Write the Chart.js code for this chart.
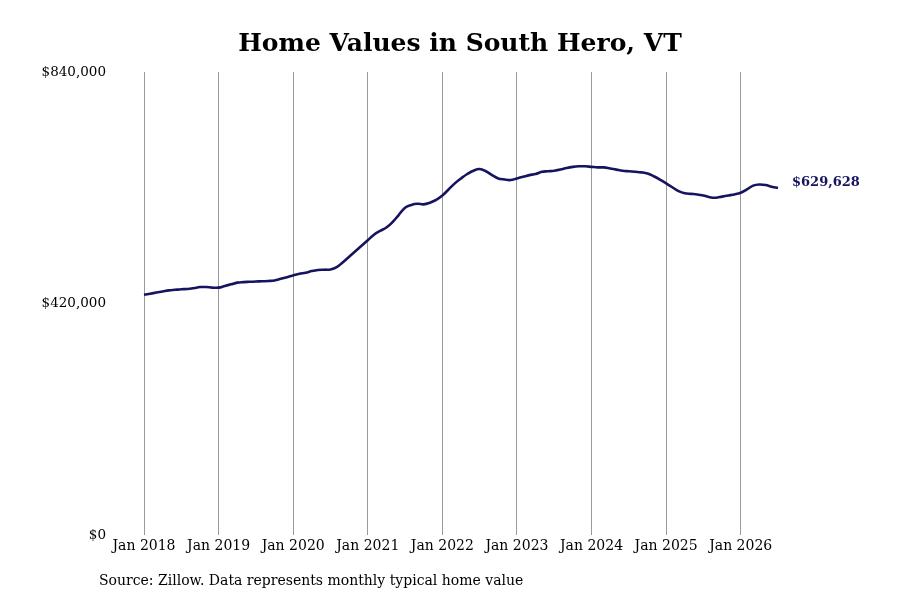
<!DOCTYPE html>
<html>
<head>
<meta charset="utf-8">
<script src="https://cdn.jsdelivr.net/npm/chart.js@4.4.1/dist/chart.umd.min.js"></script>
<style>
  html, body { margin: 0; padding: 0; background: #ffffff; }
  #wrap { width: 900px; height: 600px; position: relative; }
</style>
</head>
<body>
<div id="wrap"><canvas id="c" width="900" height="600"></canvas></div>
<script>
const years = [2018, 2019, 2020, 2021, 2022, 2023, 2024, 2025, 2026];
const monthNames = ['Jan','Feb','Mar','Apr','May','Jun','Jul','Aug','Sep','Oct','Nov','Dec'];
const lastMonthIndex2026 = 6; // data runs to Jul 2026

// Monthly typical home value (USD), Jan 2018 .. Jul 2026
const values2018 = [436000, 438000, 440000, 442000, 444000, 445000, 446000, 446500, 448000, 450000, 450000, 449000];
const values2019 = [449000, 452000, 455000, 458000, 459000, 459500, 460000, 460500, 461000, 462000, 465000, 468000];
const values2020 = [471000, 474000, 476000, 479000, 481000, 481500, 482000, 486000, 495000, 505000, 515000, 525000];
const values2021 = [535000, 545000, 552000, 558000, 568000, 581000, 594000, 599000, 601000, 600000, 603000, 608000];
const values2022 = [616000, 627000, 638000, 647000, 655000, 661000, 664000, 660000, 653000, 647000, 645000, 644000];
const values2023 = [647000, 650000, 653000, 655000, 659000, 660000, 661000, 663000, 666000, 668000, 669000, 669000];
const values2024 = [668000, 667000, 667000, 665000, 663000, 661000, 660000, 659000, 658000, 656000, 651000, 645000];
const values2025 = [638000, 631000, 624000, 620000, 619000, 618000, 616000, 613000, 612000, 614000, 616000, 618000];
const values2026 = [621000, 627000, 634000, 636000, 635000, 632000, 629628];

const yTicks = [0, 420000, 840000];
const titleText = 'Home Values in South Hero, VT';
const sourceText = 'Source: Zillow. Data represents monthly typical home value';

const labels = [];
years.forEach(y => {
  const n = (y === 2026) ? lastMonthIndex2026 + 1 : 12;
  for (let m = 0; m < n; m++) labels.push(monthNames[m] + ' ' + y);
});
const values = [].concat(values2018, values2019, values2020, values2021, values2022,
                         values2023, values2024, values2025, values2026);

const fmt = v => '$' + Math.round(v).toLocaleString('en-US');
const LINE = '#16135f';
const FONT = "'DejaVu Serif', serif";

const extras = {
  id: 'extras',
  afterDatasetsDraw(chart) {
    const ctx = chart.ctx;
    const meta = chart.getDatasetMeta(0);
    const pt = meta.data[meta.data.length - 1];
    ctx.save();
    ctx.font = "bold 13px " + FONT;
    ctx.fillStyle = LINE;
    ctx.textAlign = 'left';
    ctx.textBaseline = 'middle';
    ctx.fillText(fmt(values[values.length - 1]), pt.x + 14, pt.y - 5);
    ctx.restore();
  },
  afterDraw(chart) {
    const ctx = chart.ctx;
    ctx.save();
    ctx.fillStyle = '#000000';
    ctx.textBaseline = 'middle';
    ctx.font = "bold 25px " + FONT;
    ctx.textAlign = 'center';
    ctx.fillText(titleText, 460, 44);
    ctx.font = "14px " + FONT;
    ctx.textAlign = 'left';
    ctx.fillText(sourceText, 99, 581);
    ctx.restore();
  }
};

new Chart(document.getElementById('c'), {
  type: 'line',
  data: {
    labels: labels,
    datasets: [{
      data: values,
      borderColor: LINE,
      borderWidth: 2.6,
      pointRadius: 0,
      pointHoverRadius: 0,
      tension: 0.4,
      fill: false
    }]
  },
  options: {
    responsive: false,
    animation: false,
    devicePixelRatio: 1,
    layout: { padding: { left: 42, right: 122, top: 72, bottom: 42 } },
    plugins: {
      legend: { display: false },
      tooltip: { enabled: false },
      title: { display: false }
    },
    scales: {
      x: {
        type: 'category',
        offset: false,
        border: { display: false },
        grid: {
          display: true,
          drawTicks: false,
          color: '#9a9a9a',
          lineWidth: 1
        },
        ticks: {
          autoSkip: false,
          maxRotation: 0,
          padding: 3,
          color: '#000000',
          font: { family: FONT, size: 14 },
          callback: function (val) {
            const l = this.getLabelForValue(val);
            return l.startsWith('Jan') ? l : null;
          }
        }
      },
      y: {
        min: 0,
        max: 840000,
        border: { display: false },
        grid: { display: false, drawTicks: false },
        afterFit: s => { s.width = 102; },
        afterBuildTicks: s => { s.ticks = yTicks.map(v => ({ value: v })); },
        ticks: {
          padding: 38,
          color: '#000000',
          font: { family: FONT, size: 13.5 },
          callback: v => fmt(v)
        }
      }
    }
  },
  plugins: [extras]
});
</script>
</body>
</html>
